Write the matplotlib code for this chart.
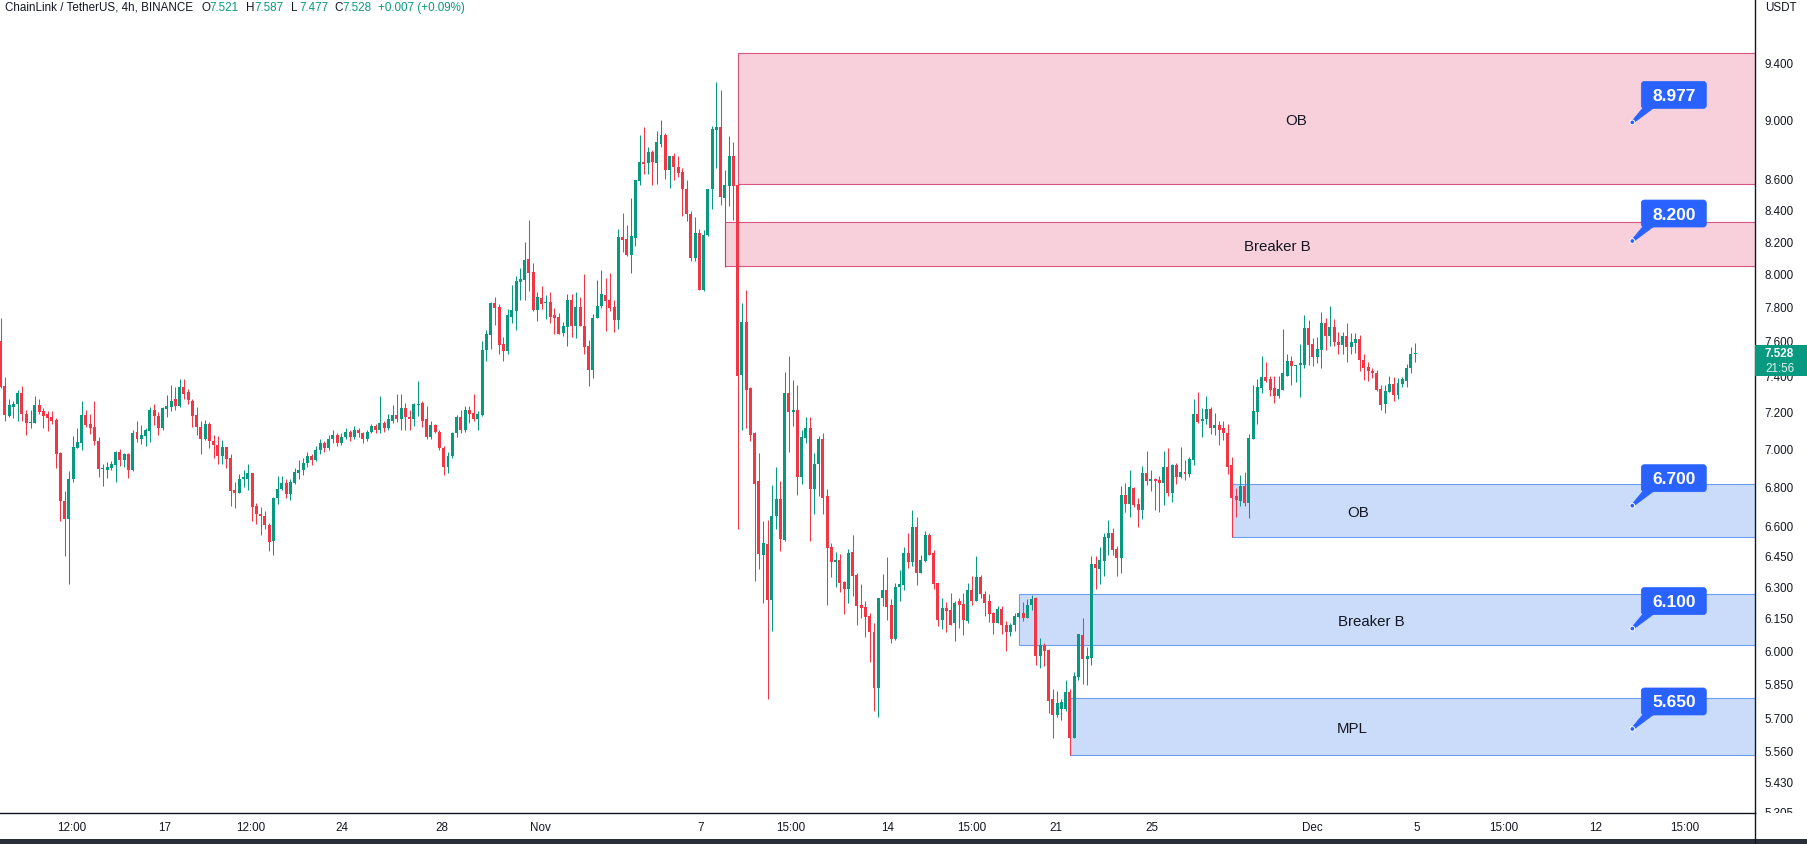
import numpy as np
import matplotlib
matplotlib.use("Agg")
import matplotlib.pyplot as plt
from matplotlib.patches import Rectangle, FancyBboxPatch, Polygon, Circle
from matplotlib.lines import Line2D
from matplotlib.ticker import NullLocator
from matplotlib.transforms import Bbox, IdentityTransform

plt.rcParams["font.family"] = ["Liberation Sans", "DejaVu Sans"]

# -------------------------
# DATA: LINK/USDT 4h candles (index 0 ~ Oct 10, 12:00)
# -------------------------
opens = [
    7.60, 7.34, 7.174, 7.224, 7.24, 7.30, 7.184, 7.136, 7.136, 7.233,
    7.20, 7.185, 7.167, 7.152, 6.975, 6.725, 6.633, 6.836, 7.00, 7.028,
    7.178, 7.13, 7.113, 7.04, 6.89, 6.885, 6.894, 6.912, 6.98, 6.94,
    6.97, 6.884, 7.086, 7.05, 7.066, 7.093, 7.21, 7.174, 7.109, 7.213,
    7.224, 7.266, 7.23, 7.333, 7.305, 7.26, 7.178, 7.115, 7.05, 7.13,
    7.04, 7.02, 6.96, 7.005, 6.95, 6.78, 6.767, 6.837, 6.837, 6.868,
    6.70, 6.66, 6.65, 6.604, 6.523, 6.741, 6.788, 6.815, 6.762, 6.818,
    6.871, 6.885, 6.92, 6.96, 6.94, 6.99, 7.03, 7.00, 7.05, 7.07,
    7.03, 7.06, 7.09, 7.06, 7.10, 7.08, 7.05, 7.09, 7.12, 7.10,
    7.134, 7.11, 7.15, 7.178, 7.156, 7.217, 7.167, 7.156, 7.233, 7.244,
    7.156, 7.06, 7.124, 7.09, 7.00, 6.90, 6.96, 7.08, 7.167, 7.10,
    7.205, 7.19, 7.156, 7.178, 7.543, 7.634, 7.823, 7.80, 7.583, 7.537,
    7.74, 7.776, 7.949, 7.961, 8.09, 8.01, 7.782, 7.853, 7.82, 7.829,
    7.747, 7.74, 7.645, 7.68, 7.84, 7.687, 7.80, 7.687, 7.566, 7.434,
    7.734, 7.804, 7.87, 7.84, 7.80, 7.718, 8.223, 8.213, 8.115, 8.22,
    8.584, 8.71, 8.70, 8.776, 8.706, 8.83, 8.889, 8.66, 8.75, 8.677,
    8.645, 8.533, 8.374, 8.095, 8.25, 7.90, 8.238, 8.53, 8.924, 8.945,
    8.476, 8.552, 8.75, 8.557, 7.402, 7.711, 7.328, 7.08, 6.825, 6.452,
    6.508, 6.234, 6.648, 6.735, 6.527, 7.30, 7.195, 7.206, 6.847, 7.053,
    7.107, 6.786, 6.916, 7.048, 6.748, 6.49, 6.42, 6.428, 6.323, 6.285,
    6.467, 6.356, 6.211, 6.203, 6.16, 6.086, 5.83, 6.242, 6.28, 6.211,
    6.054, 6.295, 6.304, 6.462, 6.42, 6.59, 6.366, 6.425, 6.551, 6.462,
    6.314, 6.142, 6.196, 6.187, 6.124, 6.228, 6.217, 6.137, 6.283, 6.228,
    6.345, 6.265, 6.228, 6.171, 6.128, 6.191, 6.115, 6.082, 6.115, 6.156,
    6.171, 6.151, 6.213, 6.242, 5.975, 6.026, 6.00, 5.779, 5.71, 5.736,
    5.736, 5.813, 5.613, 5.88, 6.072, 5.96, 5.965, 6.408, 6.385, 6.425,
    6.538, 6.561, 6.48, 6.438, 6.753, 6.708, 6.79, 6.708, 6.679, 6.868,
    6.826, 6.836, 6.831, 6.816, 6.899, 6.764, 6.911, 6.847, 6.873, 6.863,
    6.936, 7.184, 7.145, 7.156, 7.211, 7.107, 7.124, 7.107, 7.08, 6.909,
    6.748, 6.726, 6.80, 6.713, 7.048, 7.194, 7.328, 7.39, 7.378, 7.328,
    7.283, 7.317, 7.40, 7.485, 7.452, 7.459, 7.462, 7.676, 7.583, 7.508,
    7.548, 7.705, 7.628, 7.68, 7.594, 7.577, 7.628, 7.56, 7.588, 7.611,
    7.49, 7.451, 7.428, 7.417, 7.322, 7.239, 7.305, 7.35, 7.289, 7.35,
    7.367, 7.44, 7.521,
]
highs = [
    7.735, 7.39, 7.266, 7.257, 7.317, 7.34, 7.205, 7.205, 7.285, 7.266,
    7.217, 7.20, 7.20, 7.163, 6.98, 6.774, 6.878, 7.064, 7.107, 7.255,
    7.205, 7.184, 7.255, 7.058, 6.915, 6.926, 6.933, 6.986, 6.996, 6.977,
    6.977, 7.098, 7.15, 7.126, 7.11, 7.224, 7.239, 7.195, 7.224, 7.29,
    7.345, 7.335, 7.378, 7.378, 7.322, 7.27, 7.222, 7.147, 7.152, 7.14,
    7.069, 7.064, 7.045, 7.005, 6.97, 6.823, 6.862, 6.887, 6.915, 6.868,
    6.714, 6.695, 6.674, 6.612, 6.746, 6.853, 6.853, 6.836, 6.836, 6.896,
    6.94, 6.95, 6.98, 6.97, 7.01, 7.05, 7.04, 7.07, 7.10, 7.08,
    7.08, 7.11, 7.10, 7.12, 7.11, 7.09, 7.10, 7.13, 7.13, 7.285,
    7.15, 7.184, 7.233, 7.295, 7.295, 7.244, 7.205, 7.244, 7.367, 7.26,
    7.228, 7.145, 7.129, 7.10, 7.01, 6.98, 7.09, 7.178, 7.205, 7.228,
    7.228, 7.295, 7.20, 7.60, 7.663, 7.829, 7.86, 7.817, 7.623, 7.788,
    7.93, 7.985, 8.035, 8.195, 8.334, 8.065, 7.889, 7.925, 7.87, 7.889,
    7.794, 7.764, 7.711, 7.876, 7.876, 7.889, 7.86, 7.995, 7.606, 7.756,
    7.96, 8.02, 7.97, 8.004, 7.84, 8.275, 8.379, 8.30, 8.474, 8.593,
    8.889, 8.944, 8.81, 8.79, 8.92, 8.996, 8.905, 8.75, 8.77, 8.75,
    8.667, 8.59, 8.39, 8.35, 8.275, 8.267, 8.533, 8.95, 9.258, 9.20,
    8.657, 8.883, 8.843, 8.57, 7.822, 7.90, 7.333, 7.09, 6.976, 6.62,
    6.627, 6.805, 6.90, 6.825, 7.42, 7.51, 7.377, 7.344, 7.10, 7.17,
    7.17, 6.974, 7.064, 7.08, 6.788, 6.51, 6.467, 6.457, 6.328, 6.482,
    6.551, 6.366, 6.312, 6.228, 6.171, 6.128, 6.245, 6.361, 6.442, 6.237,
    6.318, 6.379, 6.49, 6.561, 6.677, 6.642, 6.452, 6.571, 6.561, 6.477,
    6.318, 6.245, 6.227, 6.27, 6.232, 6.245, 6.27, 6.318, 6.35, 6.447,
    6.355, 6.278, 6.261, 6.18, 6.204, 6.204, 6.137, 6.128, 6.171, 6.184,
    6.227, 6.237, 6.259, 6.247, 6.058, 6.035, 6.007, 5.823, 5.818, 5.779,
    5.867, 5.827, 5.903, 6.077, 6.151, 6.016, 6.447, 6.447, 6.49, 6.561,
    6.626, 6.586, 6.495, 6.80, 6.816, 6.883, 6.797, 6.742, 6.904, 6.984,
    6.883, 6.842, 6.852, 6.984, 7.00, 6.916, 6.92, 7.005, 6.936, 6.952,
    7.266, 7.305, 7.217, 7.283, 7.222, 7.189, 7.15, 7.145, 7.129, 6.952,
    6.79, 6.857, 6.873, 7.075, 7.345, 7.378, 7.51, 7.478, 7.40, 7.40,
    7.40, 7.67, 7.52, 7.51, 7.462, 7.583, 7.752, 7.723, 7.617, 7.623,
    7.77, 7.735, 7.806, 7.729, 7.652, 7.652, 7.70, 7.646, 7.646, 7.634,
    7.52, 7.479, 7.445, 7.434, 7.345, 7.345, 7.395, 7.39, 7.384, 7.39,
    7.468, 7.56, 7.587,
]
lows = [
    7.33, 7.147, 7.17, 7.163, 7.147, 7.147, 7.071, 7.109, 7.136, 7.185,
    7.109, 7.093, 7.13, 6.896, 6.62, 6.449, 6.313, 6.823, 7.00, 6.99,
    7.115, 7.076, 7.017, 6.85, 6.80, 6.845, 6.885, 6.823, 6.906, 6.90,
    6.845, 6.88, 7.034, 7.025, 7.012, 7.034, 7.126, 7.071, 7.098, 7.168,
    7.204, 7.207, 7.224, 7.27, 7.24, 7.115, 7.071, 6.97, 7.045, 7.00,
    6.95, 6.918, 6.918, 6.896, 6.70, 6.688, 6.767, 6.795, 6.78, 6.623,
    6.607, 6.553, 6.584, 6.474, 6.454, 6.709, 6.78, 6.741, 6.73, 6.813,
    6.837, 6.86, 6.90, 6.91, 6.93, 6.97, 6.98, 6.99, 7.03, 7.01,
    7.02, 7.05, 7.04, 7.05, 7.06, 7.03, 7.04, 7.08, 7.08, 7.08,
    7.09, 7.10, 7.134, 7.143, 7.10, 7.10, 7.10, 7.118, 7.173, 7.113,
    7.05, 7.05, 7.08, 6.99, 6.86, 6.87, 6.95, 7.06, 7.08, 7.09,
    7.134, 7.145, 7.10, 7.173, 7.485, 7.554, 7.692, 7.525, 7.485, 7.52,
    7.70, 7.663, 7.84, 7.84, 7.895, 7.776, 7.717, 7.788, 7.728, 7.70,
    7.64, 7.64, 7.628, 7.566, 7.623, 7.617, 7.687, 7.525, 7.34, 7.388,
    7.734, 7.789, 7.658, 7.772, 7.652, 7.665, 8.131, 8.105, 8.00, 8.17,
    8.56, 8.628, 8.628, 8.56, 8.566, 8.81, 8.60, 8.536, 8.59, 8.61,
    8.36, 8.326, 8.078, 8.073, 7.90, 7.895, 8.232, 8.40, 8.67, 8.43,
    8.04, 8.425, 8.334, 6.583, 7.096, 7.107, 7.04, 6.328, 6.384, 6.22,
    5.78, 6.09, 6.583, 6.47, 6.52, 6.98, 7.12, 6.757, 6.81, 7.03,
    6.521, 6.66, 6.748, 6.658, 6.211, 6.347, 6.298, 6.275, 6.166, 6.22,
    6.256, 6.119, 6.15, 6.063, 5.948, 5.726, 5.70, 6.208, 6.142, 6.031,
    6.047, 6.228, 6.283, 6.39, 6.40, 6.304, 6.366, 6.42, 6.454, 6.285,
    6.11, 6.096, 6.086, 6.115, 6.041, 6.105, 6.072, 6.124, 6.213, 6.228,
    6.242, 6.161, 6.132, 6.077, 6.128, 6.077, 5.998, 6.067, 6.09, 6.151,
    6.137, 6.151, 6.188, 5.935, 5.921, 5.93, 5.718, 5.613, 5.70, 5.69,
    5.726, 5.538, 5.613, 5.867, 5.849, 5.845, 5.934, 6.285, 6.313, 6.351,
    6.454, 6.454, 6.351, 6.366, 6.667, 6.642, 6.693, 6.591, 6.631, 6.807,
    6.776, 6.677, 6.667, 6.703, 6.748, 6.718, 6.81, 6.842, 6.831, 6.847,
    6.911, 7.134, 7.058, 7.129, 7.075, 7.069, 7.02, 7.042, 6.863, 6.54,
    6.642, 6.698, 6.698, 6.637, 7.048, 7.129, 7.30, 7.362, 7.283, 7.244,
    7.272, 7.317, 7.40, 7.345, 7.362, 7.278, 7.445, 7.462, 7.456, 7.473,
    7.445, 7.543, 7.571, 7.571, 7.52, 7.52, 7.479, 7.52, 7.531, 7.428,
    7.372, 7.367, 7.384, 7.311, 7.205, 7.189, 7.305, 7.26, 7.266, 7.333,
    7.333, 7.417, 7.477,
]
closes = [
    7.333, 7.18, 7.233, 7.239, 7.30, 7.185, 7.136, 7.14, 7.233, 7.196,
    7.174, 7.163, 7.147, 6.97, 6.725, 6.633, 6.836, 7.005, 7.032, 7.178,
    7.126, 7.109, 7.04, 6.89, 6.896, 6.90, 6.915, 6.98, 6.94, 6.97,
    6.885, 7.082, 7.05, 7.069, 7.098, 7.21, 7.174, 7.109, 7.219, 7.228,
    7.26, 7.23, 7.333, 7.295, 7.263, 7.174, 7.113, 7.05, 7.13, 7.04,
    7.017, 6.96, 7.005, 6.945, 6.776, 6.767, 6.84, 6.846, 6.868, 6.695,
    6.658, 6.648, 6.60, 6.518, 6.741, 6.788, 6.815, 6.762, 6.823, 6.875,
    6.885, 6.92, 6.96, 6.94, 6.99, 7.03, 7.00, 7.05, 7.07, 7.03,
    7.06, 7.09, 7.06, 7.10, 7.08, 7.05, 7.09, 7.12, 7.10, 7.134,
    7.11, 7.156, 7.178, 7.156, 7.217, 7.167, 7.156, 7.239, 7.239, 7.15,
    7.06, 7.124, 7.09, 7.00, 6.90, 6.96, 7.08, 7.167, 7.10, 7.205,
    7.184, 7.156, 7.184, 7.548, 7.64, 7.823, 7.794, 7.577, 7.537, 7.747,
    7.782, 7.955, 7.967, 8.083, 8.00, 7.782, 7.86, 7.817, 7.825, 7.74,
    7.734, 7.64, 7.687, 7.84, 7.687, 7.80, 7.687, 7.56, 7.434, 7.734,
    7.804, 7.875, 7.835, 7.794, 7.718, 8.223, 8.205, 8.115, 8.232, 8.59,
    8.71, 8.696, 8.776, 8.71, 8.841, 8.889, 8.655, 8.75, 8.675, 8.637,
    8.53, 8.374, 8.095, 8.25, 7.90, 8.238, 8.533, 8.93, 8.945, 8.48,
    8.557, 8.75, 8.552, 7.397, 7.711, 7.32, 7.069, 6.81, 6.457, 6.51,
    6.234, 6.648, 6.735, 6.53, 7.30, 7.195, 7.206, 6.848, 7.058, 7.112,
    6.786, 6.916, 7.048, 6.74, 6.488, 6.418, 6.425, 6.318, 6.285, 6.462,
    6.351, 6.208, 6.198, 6.156, 6.082, 5.83, 6.245, 6.28, 6.203, 6.054,
    6.298, 6.309, 6.462, 6.42, 6.59, 6.366, 6.428, 6.551, 6.454, 6.309,
    6.142, 6.196, 6.184, 6.119, 6.22, 6.213, 6.142, 6.283, 6.228, 6.345,
    6.261, 6.22, 6.166, 6.128, 6.191, 6.115, 6.082, 6.119, 6.16, 6.171,
    6.151, 6.213, 6.241, 5.975, 6.026, 5.998, 5.774, 5.71, 5.763, 5.766,
    5.813, 5.613, 5.885, 6.077, 5.96, 5.974, 6.408, 6.39, 6.428, 6.541,
    6.561, 6.475, 6.438, 6.753, 6.708, 6.795, 6.703, 6.679, 6.868, 6.826,
    6.836, 6.826, 6.816, 6.899, 6.764, 6.911, 6.847, 6.873, 6.863, 6.942,
    7.184, 7.14, 7.161, 7.211, 7.107, 7.124, 7.10, 7.08, 6.899, 6.742,
    6.731, 6.80, 6.713, 7.053, 7.20, 7.334, 7.39, 7.367, 7.317, 7.283,
    7.322, 7.412, 7.485, 7.452, 7.456, 7.473, 7.676, 7.577, 7.508, 7.554,
    7.70, 7.628, 7.68, 7.594, 7.577, 7.628, 7.56, 7.594, 7.611, 7.49,
    7.445, 7.423, 7.412, 7.317, 7.233, 7.311, 7.35, 7.289, 7.356, 7.378,
    7.445, 7.525, 7.528,
]

# zones drawn on the chart (left edge = candle index)
zone_left = [173, 170, 289, 239, 251]
zone_low = [8.563, 8.043, 6.54, 6.023, 5.538]
zone_high = [9.463, 8.319, 6.81, 6.263, 5.787]
zone_text = ["OB", "Breaker B", "OB", "Breaker B", "MPL"]
zone_text_x = [304, 299.6, 318.6, 321.7, 317.2]
zone_side = ["sell", "sell", "buy", "buy", "buy"]

# price callouts
callout_prices = [8.977, 8.200, 6.700, 6.100, 5.650]
callout_x = 383

# axis labels
xtick_pos = [16.7, 38.6, 58.8, 80.1, 103.6, 126.6, 164.4, 185.5, 208.1,
             228.0, 247.7, 270.3, 307.8, 332.5, 352.9, 374.3, 395.4]
xtick_labels = ["12:00", "17", "12:00", "24", "28", "Nov", "7", "15:00", "14",
                "15:00", "21", "25", "Dec", "5", "15:00", "12", "15:00"]
ytick_vals = [9.4, 9.0, 8.6, 8.4, 8.2, 8.0, 7.8, 7.6, 7.4, 7.2, 7.0, 6.8,
              6.6, 6.45, 6.3, 6.15, 6.0, 5.85, 5.7, 5.56, 5.43, 5.305]

header_ohlc = [7.521, 7.587, 7.477, 7.528]
change, change_pct = 0.007, 0.09
countdown = "21:56"

# -------------------------
# STYLE
# -------------------------
GREEN = "#089981"
RED = "#f23645"
TXT = "#131722"
BLUE = "#2962ff"
ZONE_STYLE = {
    "sell": dict(fc="#f8d0dc", ec="#d8567f"),
    "buy": dict(fc="#cadcfa", ec="#6e9ef2"),
}

W, H = 1808, 845
fig = plt.figure(figsize=(W / 100, H / 100), dpi=100)
fig.patch.set_facecolor("white")
ax = fig.add_axes([0, 31 / H, 1755 / W, 814 / H])
ax.set_yscale("log")
ax.set_xlim(-0.16, 411.8)
ax.set_ylim(5.299, 9.864)

# -------------------------
# ZONES
# -------------------------
for left, lo, hi, txt, tx, side in zip(zone_left, zone_low, zone_high,
                                       zone_text, zone_text_x, zone_side):
    st = ZONE_STYLE[side]
    ax.add_patch(Rectangle((left, lo), 500 - left, hi - lo, fc=st["fc"],
                           ec=st["ec"], lw=0.8, zorder=1))
    ax.text(tx, np.sqrt(lo * hi), txt, ha="center", va="center_baseline",
            fontsize=10.8, color=TXT, zorder=2)

# -------------------------
# CANDLES
# -------------------------
o = np.array(opens)
c = np.array(closes)
hi_ = np.maximum(np.array(highs), np.maximum(o, c))
lo_ = np.minimum(np.array(lows), np.minimum(o, c))
x = np.arange(len(c))
col = np.where(c >= o, GREEN, RED)

ax.vlines(x, lo_, hi_, colors=col, lw=0.75, zorder=3)
body_lo = np.minimum(o, c)
body_hi = np.maximum(np.maximum(o, c), body_lo * 1.0009)
ax.bar(x, body_hi - body_lo, bottom=body_lo, width=0.7, color=col,
       linewidth=0, zorder=4)

# -------------------------
# CALLOUTS (drawn in pixel units around the anchor point)
# -------------------------
ident = IdentityTransform()
for p in callout_prices:
    px, py = ax.transData.transform((callout_x, p))
    fig.add_artist(Polygon([(px - 0.8, py + 0.8), (px + 0.8, py - 0.8),
                            (px + 22, py + 15), (px + 11, py + 15)],
                           closed=True, transform=ident, fc=BLUE, ec=BLUE,
                           lw=0.5, zorder=6))
    fig.add_artist(FancyBboxPatch((px + 9, py + 14), 65, 27,
                                  boxstyle="round,pad=0,rounding_size=3",
                                  transform=ident, fc=BLUE, ec=BLUE, lw=0.5,
                                  zorder=6))
    fig.text(px + 41.5, py + 27, f"{p:.3f}", transform=ident, ha="center",
             va="center", color="white", fontsize=12.5, fontweight="bold",
             zorder=8)
    fig.add_artist(Circle((px, py), 2.4, transform=ident, fc=BLUE,
                          ec="white", lw=0.7, zorder=7))

# -------------------------
# AXES
# -------------------------
for s in ["top", "left"]:
    ax.spines[s].set_visible(False)
for s in ["right", "bottom"]:
    ax.spines[s].set_color(TXT)
    ax.spines[s].set_linewidth(1.0)

ax.yaxis.tick_right()
ax.set_yticks(ytick_vals)
ax.set_yticklabels([f"{v:.3f}" for v in ytick_vals])
ax.yaxis.set_minor_locator(NullLocator())
ax.tick_params(axis="y", length=0, pad=7, labelsize=8.4, labelcolor=TXT)
clip = Bbox.from_extents(1700, 31, W, H)
for t in ax.yaxis.get_major_ticks():
    t.label2.set_clip_box(clip)
    t.label2.set_clip_on(True)

ax.set_xticks(xtick_pos)
ax.set_xticklabels(xtick_labels)
ax.tick_params(axis="x", length=0, pad=6, labelsize=8.4, labelcolor=TXT)

# price scale extras
fig.add_artist(Line2D([1755 / W, 1755 / W], [0, 31 / H], color=TXT, lw=1.0))
fig.add_artist(Rectangle((0, 0), 1, 5 / H, transform=fig.transFigure,
                         fc="#2a2e39", ec="none"))
fig.text(1765 / W, 1 - 8 / H, "USDT", fontsize=8.4, color=TXT, va="center")
fig.add_artist(Rectangle((1755 / W, 1 - 377 / H), 53 / W, 31 / H,
                         transform=fig.transFigure, fc=GREEN, ec="none"))
fig.text(1765 / W, 1 - 354 / H, f"{header_ohlc[3]:.3f}", fontsize=8.4,
         color="white", va="center", fontweight="bold")
fig.text(1765 / W, 1 - 369 / H, countdown, fontsize=8.4,
         color="#dff3ef", va="center")

# header
hy = 1 - 8 / H
fig.text(4.6 / W, hy, "ChainLink / TetherUS, 4h, BINANCE", fontsize=8.4,
         color=TXT, va="center")
for lx, letter, val in zip([201, 246, 291, 334], "OHLC", header_ohlc):
    fig.text(lx / W, hy, letter, fontsize=8.4, color=TXT, va="center")
    fig.text((lx + 8) / W, hy, f"{val:.3f}", fontsize=8.4, color=GREEN,
             va="center")
fig.text(378 / W, hy, f"+{change:.3f} (+{change_pct:.2f}%)", fontsize=8.4,
         color=GREEN, va="center")

fig.savefig("out.png", dpi=100)
